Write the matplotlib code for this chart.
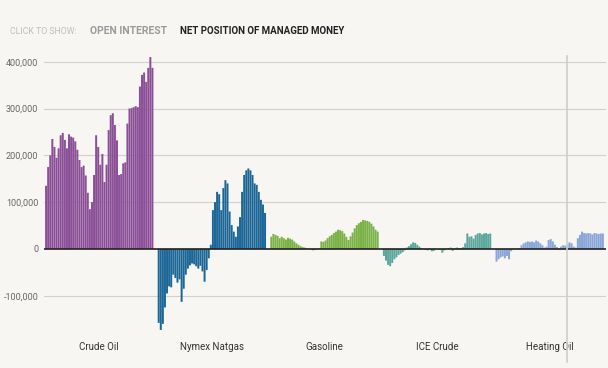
import matplotlib
matplotlib.use("Agg")
import matplotlib.pyplot as plt
import numpy as np

# net position of managed money, weekly, thousands of contracts
crude_oil = [135, 175, 200, 235, 218, 195, 215, 243, 248, 233, 215, 245, 240,
             238, 230, 212, 190, 175, 178, 157, 120, 85, 100, 158, 243, 218,
             180, 203, 143, 180, 254, 286, 290, 265, 232, 158, 160, 183, 185,
             268, 300, 301, 303, 305, 303, 347, 372, 377, 357, 387, 410, 387]
nymex_natgas = [-158, -173, -160, -125, -95, -80, -82, -55, -62, -72, -65, -113, -85,
                -55, -42, -35, -31, -33, -37, -42, -36, -48, -70, -45, -20, 9,
                83, 100, 122, 117, 83, 130, 147, 140, 80, 51, 37, 26, 48,
                68, 122, 158, 168, 172, 168, 158, 140, 137, 122, 105, 95, 77]
gasoline = [26, 32, 30, 28, 23, 26, 23, 20, 24, 22, 20, 16, 12,
            9, 6, 4, 3, 1, 0, -1, -3, -2, 0, 1, 16, 15,
            18, 23, 27, 30, 34, 37, 41, 40, 38, 33, 26, 19, 27,
            35, 44, 51, 55, 58, 62, 61, 60, 58, 54, 48, 41, 37]
ice_crude = [-15, -25, -34, -37, -30, -22, -18, -13, -10, -7, -3, 3, 6,
             10, 14, 13, 9, 5, 2, 0, -2, -3, 1, -5, -4, -1,
             0, -2, -8, -3, 0, 2, 3, -4, 1, 3, 2, 1, 4,
             12, 33, 26, 27, 22, 30, 33, 34, 31, 33, 34, 32, 33]
heating_oil = [-27, -22, -18, -16, -20, -15, -22, -5, 1, 0, 1, 2, 8,
               12, 14, 16, 15, 16, 14, 18, 16, 12, 8, 3, 5, 19,
               21, 16, 9, 4, -1, 5, 8, 7, 10, 14, 12, 5, 3,
               23, 30, 37, 34, 33, 34, 33, 31, 34, 33, 32, 33, 33]

categories = ["Crude Oil", "Nymex Natgas", "Gasoline", "ICE Crude", "Heating Oil"]
series = [crude_oil, nymex_natgas, gasoline, ice_crude, heating_oil]
colors = ["#8b4f98", "#1b6697", "#79b144", "#5ba69b", "#87a5d8"]
y_ticks = [-100000, 0, 100000, 200000, 300000, 400000]
hover_group, hover_week = 4, 34

bg = "#f7f6f3"
plt.rcParams["font.family"] = ["Roboto", "DejaVu Sans"]

fig = plt.figure(figsize=(6.08, 3.68), dpi=100, facecolor=bg)
ax = fig.add_axes([44 / 608, 0.0946, 562 / 608, 0.763])
ax.set_facecolor(bg)

group_step = 54
for g, (vals, col) in enumerate(zip(series, colors)):
    x = g * group_step + np.arange(len(vals))
    bars = ax.bar(x, np.array(vals) * 1000, width=0.95, color=col, linewidth=0, zorder=2)
    for b in bars:
        b.set_snap(False)
    ax.text(g * group_step + (len(vals) - 1) / 2, -0.03, categories[g],
            transform=ax.get_xaxis_transform(), ha="center", va="top",
            fontsize=7, color="#333333")

ax.set_xlim(-1, 268.5)
ax.set_ylim(-180000, 420000)
ax.set_yticks(y_ticks)
ax.set_yticklabels([f"{v:,}" for v in y_ticks], fontsize=6.5, color="#666666")
ax.tick_params(axis="y", length=0, pad=4)
ax.set_xticks([])
for v in y_ticks:
    if v != 0:
        ax.axhline(v, color="#d2d1cd", linewidth=0.8, zorder=1)
ax.axhline(0, color="#222222", linewidth=1.2, zorder=3)
for s in ax.spines.values():
    s.set_visible(False)

# hover guide line
ax.axvline(hover_group * group_step + hover_week, ymin=-0.103, ymax=0.987,
           color="#cfcecb", linewidth=1.2, zorder=4, clip_on=False)

fig.text(10 / 608, 1 - 31 / 368, "CLICK TO SHOW:", fontsize=6.3, color="#bdbdbd",
         va="center", ha="left")
fig.text(90 / 608, 1 - 31 / 368, "OPEN INTEREST", fontsize=7.5, color="#9a9a9a",
         fontweight="bold", va="center", ha="left")
fig.text(180 / 608, 1 - 31 / 368, "NET POSITION OF MANAGED MONEY", fontsize=7,
         color="#222222", fontweight="bold", va="center", ha="left")

fig.savefig("out.png", dpi=100, facecolor=bg)
